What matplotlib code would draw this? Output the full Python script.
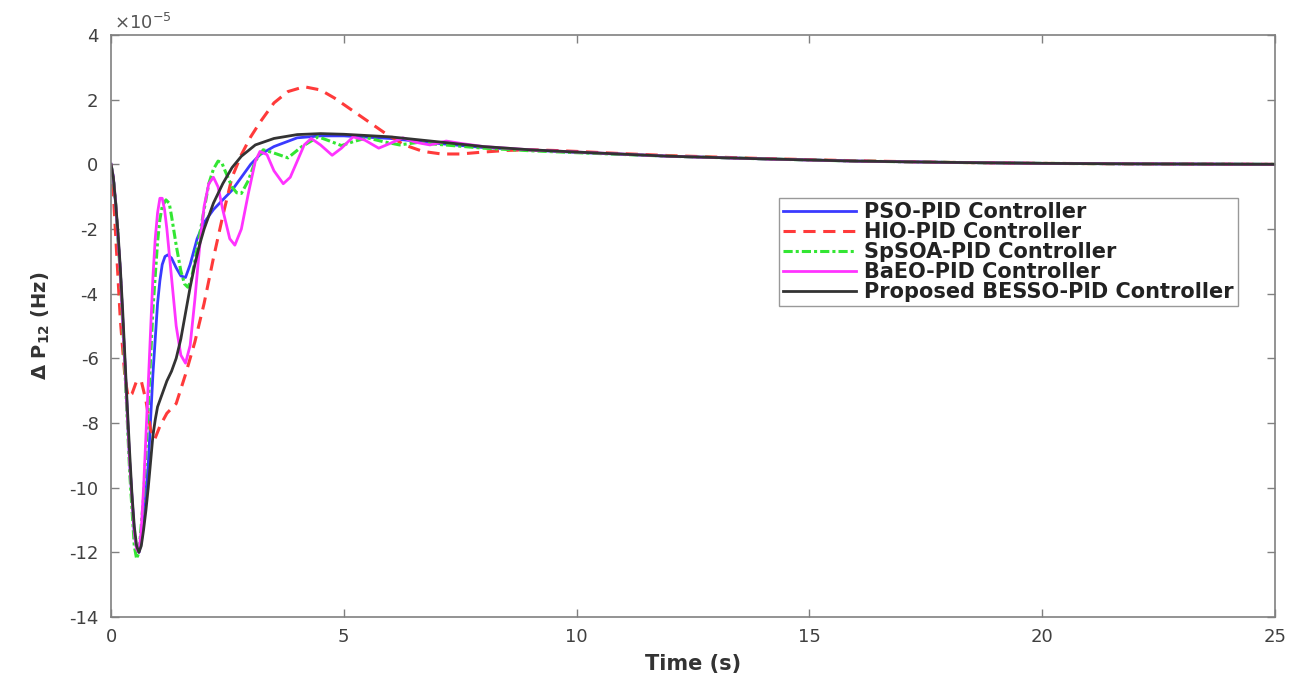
import matplotlib
matplotlib.use("Agg")
import matplotlib.pyplot as plt

plt.rcParams["font.family"] = ["DejaVu Sans"]
plt.rcParams["axes.unicode_minus"] = False

# values in units of 1e-5
t_besso = [0, 0.05, 0.1, 0.15, 0.2, 0.25, 0.3, 0.35, 0.4, 0.45, 0.5, 0.55, 0.6, 0.65,
           0.7, 0.75, 0.8, 0.85, 0.9, 0.95, 1.0, 1.1, 1.2, 1.3, 1.4, 1.5, 1.6, 1.7,
           1.8, 1.9, 2.0, 2.2, 2.4, 2.6, 2.8, 3.1, 3.5, 4.0, 4.5, 5.0, 6, 7, 8, 9, 10,
           12, 14, 16, 18, 20, 22, 25]
y_besso = [0, -0.4, -1.2, -2.1, -3.2, -4.5, -6.0, -7.5, -8.9, -10.2, -11.2, -11.8,
           -12.0, -11.8, -11.3, -10.7, -10.0, -9.2, -8.4, -7.9, -7.5, -7.1, -6.7,
           -6.4, -6.0, -5.4, -4.6, -3.8, -3.1, -2.5, -2.0, -1.2, -0.6, -0.1, 0.25,
           0.6, 0.8, 0.92, 0.95, 0.93, 0.85, 0.7, 0.55, 0.45, 0.38, 0.25, 0.17, 0.1,
           0.06, 0.03, 0.015, 0.0]

t_pso = [0, 0.05, 0.1, 0.2, 0.3, 0.4, 0.5, 0.55, 0.6, 0.65, 0.7, 0.8, 0.9, 1.0, 1.05,
         1.1, 1.16, 1.22, 1.3, 1.4, 1.5, 1.6, 1.7, 1.85, 2.0, 2.2, 2.4, 2.6, 2.8, 3.0,
         3.2, 3.5, 4.0, 4.5, 5, 6, 7, 8, 9, 10, 12, 14, 16, 18, 20, 22, 25]
y_pso = [0, -0.4, -1.2, -3.3, -6.2, -9.2, -11.4, -11.9, -12.0, -11.7, -11.0, -9.3,
         -6.5, -4.3, -3.6, -3.1, -2.85, -2.8, -2.9, -3.2, -3.45, -3.5, -3.1, -2.3,
         -1.8, -1.4, -1.1, -0.8, -0.4, 0.0, 0.3, 0.55, 0.82, 0.88, 0.88, 0.8, 0.65,
         0.52, 0.44, 0.37, 0.25, 0.17, 0.1, 0.06, 0.03, 0.015, 0.0]

t_spsoa = [0, 0.05, 0.1, 0.2, 0.3, 0.4, 0.5, 0.55, 0.6, 0.7, 0.8, 0.9, 1.0, 1.05, 1.1,
           1.18, 1.25, 1.3, 1.4, 1.5, 1.58, 1.65, 1.72, 1.8, 1.95, 2.1, 2.2, 2.3,
           2.38, 2.45, 2.6, 2.7, 2.8, 2.95, 3.1, 3.27, 3.5, 3.8, 4.1, 4.45, 4.7, 4.95,
           5.2, 5.5, 5.85, 6.2, 6.6, 7, 8, 9, 10, 12, 14, 16, 18, 20, 22, 25]
y_spsoa = [0, -0.4, -1.2, -3.4, -6.4, -9.5, -11.8, -12.2, -12.0, -10.3, -7.5, -4.5,
           -2.4, -1.7, -1.3, -1.1, -1.2, -1.6, -2.5, -3.3, -3.7, -3.8, -3.6, -3.0,
           -1.8, -0.6, -0.15, 0.1, 0.05, -0.2, -0.7, -0.88, -0.9, -0.5, 0.1, 0.45,
           0.35, 0.2, 0.55, 0.85, 0.72, 0.58, 0.7, 0.82, 0.7, 0.6, 0.68, 0.62, 0.5,
           0.42, 0.36, 0.25, 0.17, 0.1, 0.06, 0.03, 0.015, 0.0]

t_baeo = [0, 0.05, 0.1, 0.2, 0.3, 0.4, 0.5, 0.55, 0.6, 0.65, 0.7, 0.8, 0.9, 0.95, 1.0,
          1.05, 1.1, 1.15, 1.2, 1.3, 1.4, 1.5, 1.6, 1.7, 1.8, 1.9, 2.0, 2.1, 2.2,
          2.3, 2.4, 2.55, 2.66, 2.8, 2.95, 3.1, 3.2, 3.35, 3.5, 3.7, 3.85, 4.0, 4.15,
          4.3, 4.5, 4.75, 4.95, 5.2, 5.45, 5.75, 6.0, 6.27, 6.55, 6.85, 7.2, 7.5, 8,
          8.5, 9, 10, 12, 14, 16, 18, 20, 22, 25]
y_baeo = [0, -0.4, -1.2, -3.3, -6.2, -9.2, -11.4, -11.9, -12.0, -11.3, -10.0, -6.8,
          -3.5, -2.3, -1.5, -1.05, -1.05, -1.4, -2.0, -3.5, -5.0, -5.9, -6.15, -5.6,
          -4.2, -2.6, -1.3, -0.6, -0.4, -0.7, -1.4, -2.3, -2.5, -2.0, -0.9, 0.1,
          0.4, 0.3, -0.2, -0.6, -0.4, 0.1, 0.6, 0.8, 0.6, 0.28, 0.5, 0.85, 0.75, 0.5,
          0.65, 0.82, 0.68, 0.6, 0.72, 0.65, 0.55, 0.5, 0.45, 0.38, 0.25, 0.17, 0.1,
          0.06, 0.03, 0.015, 0.0]

t_hio = [0, 0.05, 0.1, 0.2, 0.3, 0.37, 0.45, 0.55, 0.65, 0.75, 0.85, 0.94, 1.05, 1.2,
         1.4, 1.6, 1.8, 2.0, 2.2, 2.4, 2.6, 2.8, 3.0, 3.2, 3.5, 3.8, 4.15, 4.5, 4.8,
         5.1, 5.5, 5.9, 6.3, 6.7, 7.1, 7.5, 8.0, 8.5, 9, 9.5, 10, 11, 12, 14, 16, 18,
         20, 22, 25]
y_hio = [0, -0.9, -2.2, -4.8, -6.6, -7.2, -7.1, -6.7, -6.7, -7.3, -8.2, -8.5, -8.1,
         -7.7, -7.4, -6.5, -5.5, -4.3, -2.9, -1.6, -0.4, 0.3, 0.85, 1.3, 1.9, 2.25,
         2.4, 2.3, 2.05, 1.75, 1.35, 0.95, 0.6, 0.4, 0.32, 0.32, 0.38, 0.43, 0.45,
         0.43, 0.4, 0.33, 0.27, 0.18, 0.11, 0.06, 0.03, 0.015, 0.0]

labels = ["PSO-PID Controller", "HIO-PID Controller", "SpSOA-PID Controller",
          "BaEO-PID Controller", "Proposed BESSO-PID Controller"]
y_ticks = [-14, -12, -10, -8, -6, -4, -2, 0, 2, 4]
x_ticks = [0, 5, 10, 15, 20, 25]

fig = plt.figure(figsize=(13.01, 6.75), dpi=100)
ax = fig.add_axes([111 / 1301, 1 - 617 / 675, 1164 / 1301, 582 / 675])

ax.plot(t_pso, y_pso, color="#3a3aff", lw=2, label=labels[0])
ax.plot(t_hio, y_hio, color="#ff3a3a", lw=2.2, ls=(0, (4, 2.5)), label=labels[1])
ax.plot(t_spsoa, y_spsoa, color="#33e633", lw=2.2, ls=(0, (3, 1, 1, 1)), label=labels[2])
ax.plot(t_baeo, y_baeo, color="#ff33ff", lw=2, label=labels[3])
ax.plot(t_besso, y_besso, color="#333333", lw=2, label=labels[4])

ax.set_xlim(0, 25)
ax.set_ylim(-14, 4)
ax.set_xticks(x_ticks)
ax.set_xticklabels([str(v) for v in x_ticks])
ax.set_yticks(y_ticks)
ax.set_yticklabels([str(v) for v in y_ticks])
ax.tick_params(direction="in", top=True, right=True, length=6, width=1,
               colors="#808080", labelcolor="#404040", labelsize=13)
ax.tick_params(axis="x", pad=8)
ax.tick_params(axis="y", pad=9)
for s in ax.spines.values():
    s.set_color("#808080")
    s.set_linewidth(1.2)

ax.text(0.003, 1.004, r"$\times$10$^{-5}$", transform=ax.transAxes, fontsize=13,
        color="#555555", ha="left", va="bottom")

ax.set_xlabel("Time (s)", fontsize=15, fontweight="bold", color="#333333", labelpad=6)
ax.set_ylabel(r"$\mathbf{\Delta}$ P$_{\mathbf{12}}$ (Hz)", fontsize=14,
              fontweight="bold", color="#333333", labelpad=12)

leg = ax.legend(loc="upper right", bbox_to_anchor=(0.968, 0.72), fancybox=False,
                prop={"weight": "bold", "size": 15}, handlelength=3.5,
                handletextpad=0.4, borderpad=0.2, labelspacing=0.0,
                borderaxespad=0)
leg.get_frame().set_edgecolor("#808080")
leg.get_frame().set_linewidth(1.0)
for txt in leg.get_texts():
    txt.set_color("#222222")

fig.savefig("out.png", dpi=100)
